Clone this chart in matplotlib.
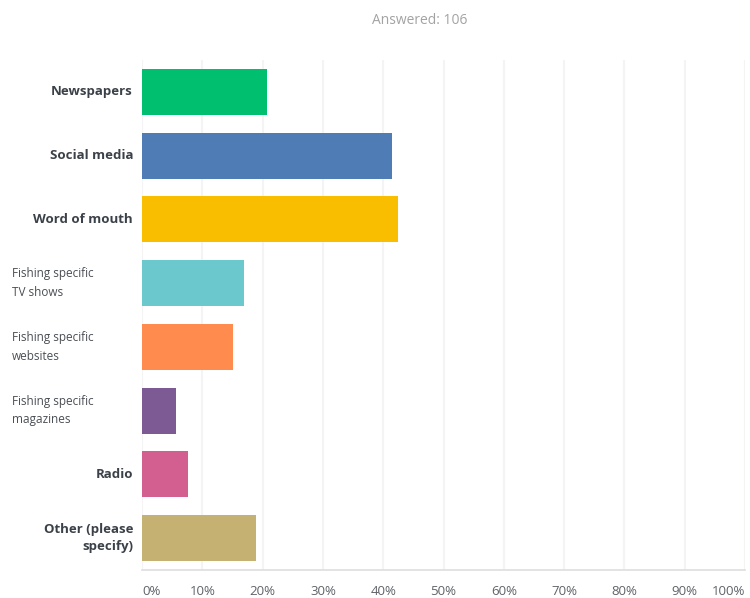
import matplotlib.pyplot as plt
import matplotlib.transforms as mtransforms

plt.rcParams['font.family'] = ['Open Sans', 'DejaVu Sans']

# survey answers, 106 respondents
categories = ['Newspapers', 'Social media', 'Word of mouth',
              'Fishing specific\nTV shows', 'Fishing specific\nwebsites',
              'Fishing specific\nmagazines', 'Radio', 'Other (please\nspecify)']
counts = [22, 44, 45, 18, 16, 6, 8, 20]
answered = 106
percents = [100.0 * c / answered for c in counts]
bar_colors = ['#00bf6f', '#507cb6', '#f9be00', '#6bc8cd',
              '#ff8b4f', '#7d5a94', '#d25f90', '#c5b172']
# labels drawn bold and right aligned, the rest plain and left aligned
bold_label = [True, True, True, False, False, False, True, True]
tick_vals = list(range(0, 101, 10))
tick_labels = ['%d%%' % t for t in tick_vals]

fig = plt.figure(figsize=(7.5, 5.98), dpi=100)
ax = fig.add_axes([142 / 750, 1 - 570 / 598, 603 / 750, 510 / 598])

ypos = list(range(len(categories)))
ax.barh(ypos, percents, height=0.72, color=bar_colors, zorder=3)
ax.set_ylim(len(categories) - 0.5, -0.5)
ax.set_xlim(0, 100)

ax.set_xticks(tick_vals)
ax.set_xticklabels(tick_labels, fontsize=9.5, color='#5f6368')
ax.tick_params(axis='x', length=0, pad=11)
xl = ax.get_xticklabels()
xl[0].set_ha('left')
xl[-1].set_ha('right')
ax.set_yticks([])

ax.grid(axis='x', color='#f4f4f4', linewidth=1.5, zorder=0)
for side in ['top', 'right', 'left']:
    ax.spines[side].set_visible(False)
ax.spines['bottom'].set_color('#dedede')
ax.spines['bottom'].set_linewidth(1.2)

trans = mtransforms.blended_transform_factory(fig.transFigure, ax.transData)
for y, label, bold in zip(ypos, categories, bold_label):
    if bold:
        ax.text(133 / 750, y, label, transform=trans, ha='right', va='center',
                fontsize=9.5, fontweight='bold', color='#3b4148',
                multialignment='right', linespacing=1.35)
    else:
        ax.text(12 / 750, y, label, transform=trans, ha='left', va='center',
                fontsize=8.5, color='#4a4f55', linespacing=1.55)

fig.text(420 / 750, 1 - 20 / 598, 'Answered: %d' % answered, ha='center',
         va='center', fontsize=10, color='#a3a3a3')

fig.savefig('out.png', dpi=100, facecolor='white')
